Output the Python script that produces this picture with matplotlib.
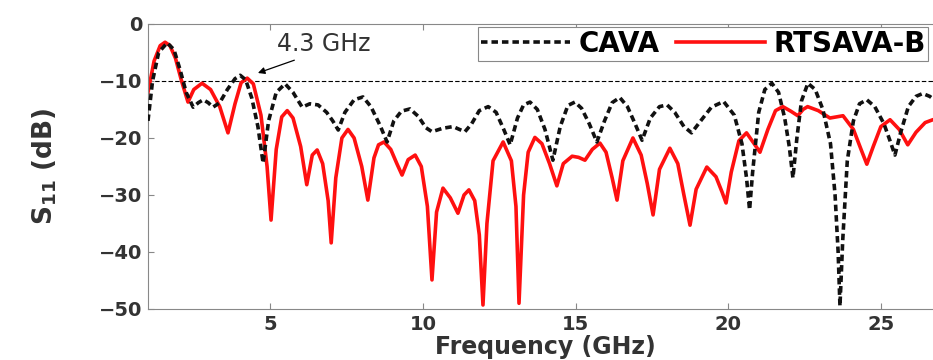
import matplotlib
matplotlib.use("Agg")
import matplotlib.pyplot as plt

# values (frequency in GHz, S11 in dB)
cava_f = [1.0, 1.15, 1.35, 1.63, 1.85, 2.05, 2.25, 2.48, 2.65, 2.81, 2.97, 3.13,
          3.35, 3.6, 3.85, 4.02, 4.2, 4.4, 4.6, 4.77, 4.95, 5.2, 5.49, 5.75,
          6.05, 6.3, 6.57, 6.85, 7.05, 7.23, 7.45, 7.75, 8.04, 8.3, 8.6, 8.83,
          9.05, 9.3, 9.58, 9.85, 10.1, 10.3, 10.65, 10.99, 11.2, 11.38, 11.6,
          11.85, 12.14, 12.4, 12.65, 12.86, 13.1, 13.3, 13.51, 13.75, 14.0,
          14.26, 14.5, 14.75, 14.98, 15.2, 15.45, 15.7, 15.95, 16.2, 16.45,
          16.7, 16.95, 17.18, 17.45, 17.75, 18.0, 18.25, 18.55, 18.8, 19.1,
          19.45, 19.85, 20.2, 20.45, 20.6, 20.7, 20.8, 21.0, 21.2, 21.43,
          21.65, 21.85, 22.0, 22.12, 22.25, 22.4, 22.61, 22.85, 23.1, 23.35,
          23.5, 23.6, 23.66, 23.75, 23.9, 24.1, 24.3, 24.54, 24.8, 25.1, 25.3,
          25.46, 25.65, 25.9, 26.15, 26.37, 26.6, 26.8, 27.0]
cava_db = [-17, -10, -5, -3.3, -4.5, -8, -12, -14.6, -13.8, -13.3, -13.8, -14.6,
           -13.8, -11.5, -9.6, -9.0, -9.8, -13, -18, -24.4, -17, -12, -10.5, -12,
           -14.6, -14.0, -14.2, -15.5, -17, -18.6, -15.5, -13.3, -12.8, -14.5,
           -17.8, -20.7, -17, -15.3, -14.9, -16.2, -18.2, -18.9, -18.3, -18.0,
           -18.5, -18.9, -17.5, -15.2, -14.5, -15.5, -18.5, -21.2, -16.5, -14.2,
           -13.7, -15, -18.5, -23.9, -18, -14.3, -13.7, -14.8, -17.5, -20.7, -17,
           -13.8, -12.9, -14.5, -17.5, -20.4, -16.5, -14.5, -14.2, -15.5, -18,
           -19.1, -17, -14.6, -13.6, -16, -21, -27, -32.6, -26, -15.5, -11.5,
           -10.4, -12, -16.5, -21.5, -27, -20, -13.5, -10.4, -11.5, -15, -21,
           -30, -40, -49.5, -38, -24, -17, -14, -13.3, -14.5, -17.5, -20.5, -23,
           -19, -14.5, -12.7, -12.2, -12.7, -13.5, -14.5]

rtsava_f = [1.0, 1.2, 1.4, 1.56, 1.72, 1.9, 2.1, 2.31, 2.5, 2.77, 3.05, 3.35,
            3.62, 3.85, 4.05, 4.25, 4.45, 4.7, 4.9, 5.03, 5.2, 5.38, 5.56, 5.75,
            6.0, 6.2, 6.38, 6.54, 6.72, 6.9, 7.0, 7.15, 7.35, 7.55, 7.75, 8.0,
            8.2, 8.4, 8.55, 8.73, 8.95, 9.15, 9.32, 9.52, 9.75, 9.95, 10.15, 10.3,
            10.45, 10.66, 10.9, 11.15, 11.35, 11.51, 11.7, 11.85, 11.97, 12.1,
            12.3, 12.63, 12.9, 13.05, 13.15, 13.3, 13.45, 13.67, 13.9, 14.15,
            14.39, 14.6, 14.89, 15.1, 15.31, 15.55, 15.8, 16.0, 16.2, 16.36,
            16.55, 16.88, 17.15, 17.35, 17.54, 17.75, 18.09, 18.35, 18.55, 18.75,
            18.95, 19.3, 19.6, 19.8, 19.93, 20.1, 20.35, 20.6, 20.85, 21.04,
            21.3, 21.55, 21.79, 22.05, 22.28, 22.45, 22.6, 22.95, 23.33, 23.76,
            24.1, 24.35, 24.54, 24.75, 25.0, 25.3, 25.6, 25.88, 26.15, 26.45,
            26.7, 27.0]
rtsava_db = [-12, -6.5, -3.8, -3.2, -3.8, -6, -10, -13.7, -11.5, -10.4, -11.5,
             -14.5, -19.1, -14, -10.3, -9.5, -10.5, -16, -25, -34.4, -22, -16.3,
             -15.2, -16.5, -21.5, -28.2, -23, -22.1, -24.5, -31, -38.4, -27, -20,
             -18.5, -20, -25, -30.9, -23.5, -21.2, -20.7, -22, -24.5, -26.5, -23.8,
             -23.0, -25, -32, -44.9, -33, -28.8, -30.5, -33.2, -30, -29.1, -31, -37,
             -49.3, -35, -24, -20.7, -24, -32, -49, -30, -22.5, -19.9, -21, -24.5,
             -28.4, -24.5, -23.2, -23.4, -23.9, -22, -20.9, -22.5, -27, -30.9, -24,
             -20.0, -23, -28, -33.5, -25.5, -21.8, -24.5, -30, -35.3, -29, -25.1,
             -26.8, -29.5, -31.4, -26, -20.5, -19.1, -21, -22.5, -18.5, -15.2,
             -14.5, -15.3, -16.1, -15, -14.5, -15.2, -16.5, -16.1, -18.5, -22,
             -24.6, -21.5, -18, -16.8, -18.5, -21.2, -19, -17.3, -16.8, -16.5]

x_ticks = [5, 10, 15, 20, 25]
y_ticks = [0, -10, -20, -30, -40, -50]

plt.rcParams["font.family"] = ["DejaVu Sans"]
plt.rcParams["font.weight"] = "bold"
plt.rcParams["axes.labelweight"] = "bold"

fig = plt.figure(figsize=(9.33, 3.6), dpi=100)
ax = fig.add_axes([0.1586, 0.1417, 0.851, 0.7917])

ax.axhline(-10, color="black", lw=0.8, ls=(0, (4, 2)), zorder=1)
ax.plot(cava_f, cava_db, color="#111111", lw=2.6, ls=(0, (1.8, 1.1)), label="CAVA", zorder=3)
ax.plot(rtsava_f, rtsava_db, color="#ff1010", lw=2.6, label="RTSAVA-B", zorder=2)

ax.set_xlim(1, 27)
ax.set_ylim(-50, 0)
ax.set_xticks(x_ticks)
ax.set_yticks(y_ticks)
ax.tick_params(direction="in", length=4, color="#888888", labelsize=14,
               labelcolor="#333333", top=True, right=True, pad=4)
for sp in ax.spines.values():
    sp.set_color("#888888")

ax.set_xlabel("Frequency (GHz)", fontsize=17, color="#333333", labelpad=1)
ax.set_ylabel("S$_{11}$ (dB)", fontsize=19, color="#333333")
ax.yaxis.set_label_coords(-0.112, 0.5)

ax.annotate("4.3 GHz", xy=(4.6, -8.6), xytext=(6.75, -3.6), fontsize=17,
            ha="center", va="center", color="#333333", fontweight="normal",
            arrowprops=dict(arrowstyle="-|>", color="black", lw=0.9,
                            mutation_scale=10, relpos=(0.3, 0.0), shrinkA=2, shrinkB=0))

leg = ax.legend(loc="upper right", bbox_to_anchor=(0.995, 0.925),
                bbox_transform=fig.transFigure, ncol=2, fontsize=20,
                handlelength=3.2, handletextpad=0.3, columnspacing=0.6,
                borderpad=0.1, borderaxespad=0, fancybox=False, framealpha=1)
leg.get_frame().set_edgecolor("#888888")
leg.get_frame().set_linewidth(0.8)

fig.savefig("out.png", dpi=100)
